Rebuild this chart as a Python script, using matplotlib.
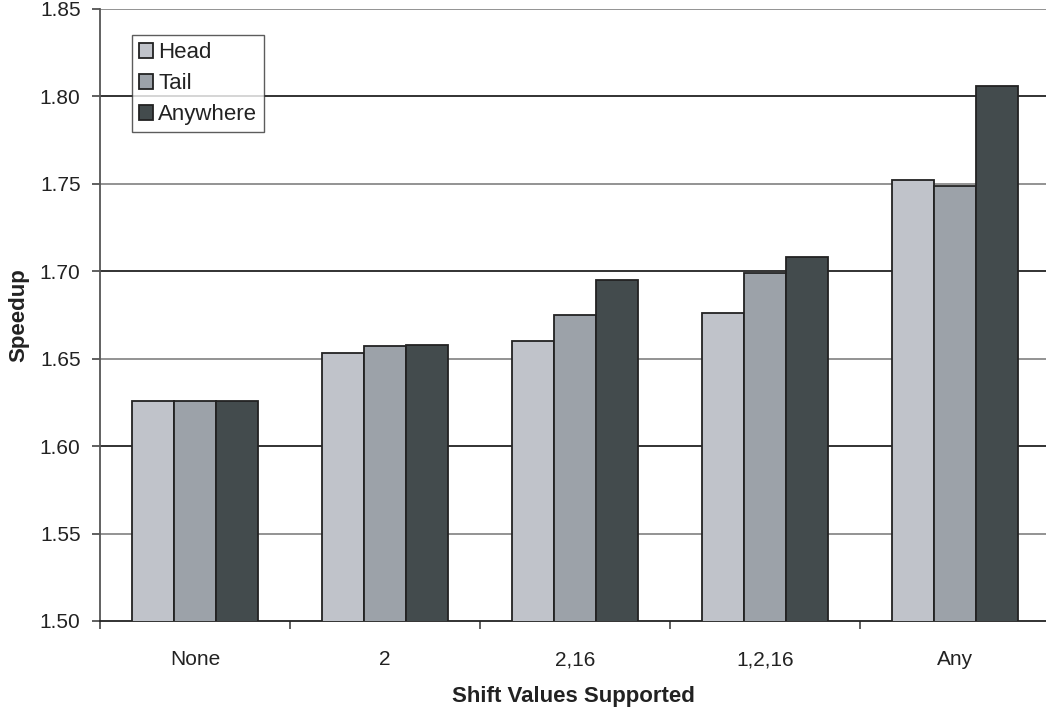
import matplotlib
matplotlib.use("Agg")
import matplotlib.pyplot as plt
import numpy as np

plt.rcParams['font.family'] = ['Liberation Sans', 'DejaVu Sans']

# valores de speedup por grupo de desplazamientos soportados
categorias = ["None", "2", "2,16", "1,2,16", "Any"]
head = [1.626, 1.653, 1.660, 1.676, 1.752]
tail = [1.626, 1.657, 1.675, 1.699, 1.749]
anywhere = [1.626, 1.658, 1.695, 1.708, 1.806]

series = ["Head", "Tail", "Anywhere"]
colores = ["#c0c3ca", "#9ca2a9", "#434b4d"]

fig = plt.figure(figsize=(10.46, 7.08), dpi=100)
ax = fig.add_axes([100/1046, 1 - 621/708, 946/1046, 612/708])

x = np.arange(len(categorias))
ancho = 0.2226

for i, (nombre, valores) in enumerate(zip(series, [head, tail, anywhere])):
    ax.bar(x + (i - 1) * ancho, valores, width=ancho, color=colores[i],
           edgecolor="#222222", linewidth=1.3, label=nombre, zorder=3)

ax.set_ylim(1.50, 1.85)
ax.set_xlim(-0.5, -0.5 + 946/190)

# lineas de division horizontales
yt = np.arange(1.50, 1.851, 0.05)
ax.set_yticks(yt)
ax.set_yticklabels(["%.2f" % v for v in yt])
for v in yt[1:]:
    k = int(round((v - 1.50) / 0.05))
    c = "#222222" if k % 2 == 0 else "#8a8a8a"
    ax.axhline(v, color=c, linewidth=1.3, zorder=1)

# ticks del eje x entre grupos, etiquetas centradas
ax.set_xticks(np.arange(-0.5, 4.0, 1.0))
ax.set_xticklabels([])
ax.set_xticks(x, minor=True)
ax.set_xticklabels(categorias, minor=True)
ax.tick_params(axis="x", which="major", length=6, width=1.2, color="#444444")
ax.tick_params(axis="x", which="minor", length=0, pad=21, labelsize=15,
               labelcolor="#222222")
ax.tick_params(axis="y", length=6, width=1.2, color="#444444", pad=8,
               labelsize=15, labelcolor="#222222")

for s in ["top", "right"]:
    ax.spines[s].set_visible(False)
ax.spines["left"].set_color("#555555")
ax.spines["left"].set_linewidth(1.3)
ax.spines["bottom"].set_color("#222222")
ax.spines["bottom"].set_linewidth(1.3)

ax.set_ylabel("Speedup", fontsize=16, fontweight="bold", color="#222222")
ax.yaxis.set_label_coords(-0.075, 0.5)
ax.set_xlabel("Shift Values Supported", fontsize=16, fontweight="bold",
              color="#222222")
ax.xaxis.set_label_coords(0.5, -0.107)

leg = ax.legend(loc="upper left", bbox_to_anchor=(0.034, 0.957), fontsize=16,
                frameon=True, fancybox=False, handlelength=0.65,
                handleheight=0.65, handletextpad=0.22, labelspacing=0.45,
                borderpad=0.3, borderaxespad=0)
leg.get_frame().set_edgecolor("#333333")
leg.get_frame().set_linewidth(1.0)
for t in leg.get_texts():
    t.set_color("#222222")

fig.savefig("out.png", dpi=100)
